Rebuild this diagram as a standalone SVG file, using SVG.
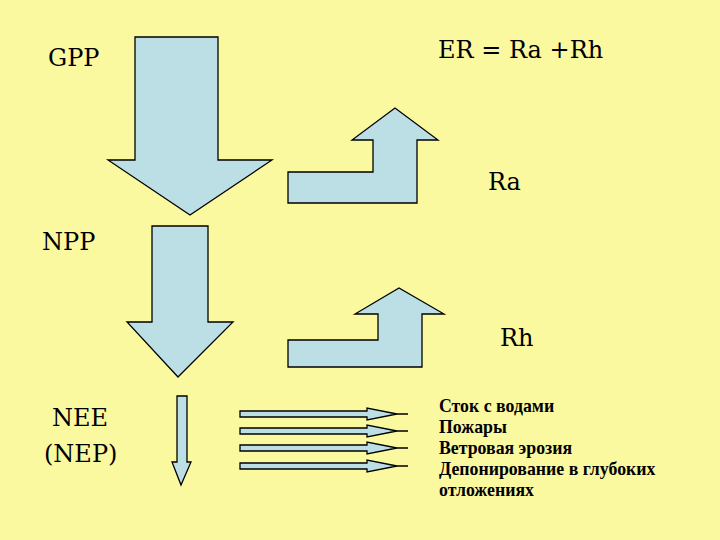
<svg xmlns="http://www.w3.org/2000/svg" width="720" height="540" viewBox="0 0 720 540">
<style>
.a{fill:#bcdfe6;stroke:#000;stroke-width:1.3;stroke-linejoin:miter}
text{fill:#000}
.b{font-family:'DejaVu Serif',serif;font-size:24px}
.s{font-family:'Liberation Serif','Times New Roman',serif;font-size:17.8px;font-weight:bold}
</style>
<rect width="720" height="540" fill="#fbf9a0"/>
<g id="labels">
<text class="b" x="48" y="66">GPP</text>
<text class="b" x="438" y="58">ER = Ra +Rh</text>
<text class="b" x="488" y="190">Ra</text>
<text class="b" x="42" y="250">NPP</text>
<text class="b" x="500" y="346">Rh</text>
<text class="b" x="52" y="426">NEE</text>
<text class="b" x="44" y="462">(NEP)</text>
<text class="s" x="439" y="412">Сток с водами</text>
<text class="s" x="439" y="433">Пожары</text>
<text class="s" x="439" y="454">Ветровая эрозия</text>
<text class="s" x="439" y="475">Депонирование в глубоких</text>
<text class="s" x="439" y="496">отложениях</text>
</g>
<g id="connectors">
<polygon id="gpp" class="a" points="135,37 218,37 218,160 272,160 190,215 108,160 135,160"/>
<polygon id="npp" class="a" points="152,226 208,226 208,322 233,322 178,377 127,322 152,322"/>
<polygon id="nee" class="a" points="177,396 187,396 187,462 191,462 181,485 172,462 177,462"/>
<polygon id="ra" class="a" points="288,172 373,172 373,140 352,140 395,108 438,140 417,140 417,203 288,203"/>
<polygon id="rh" class="a" points="288,340 378,340 378,314 355,314 399,288 444,314 422,314 422,367 288,367"/>
<g>
<polygon class="a" points="240,411 367,411 367,408 397,414 367,420 367,417 240,417"/>
<polygon class="a" points="240,428 367,428 367,425 397,431 367,437 367,434 240,434"/>
<polygon class="a" points="240,445 367,445 367,442 397,448 367,454 367,451 240,451"/>
<polygon class="a" points="240,463 367,463 367,460 397,466 367,472 367,469 240,469"/>
<path d="M397 414H408M397 431H408M397 448H408M397 466H408" stroke="#000" stroke-width="1.5"/>
</g>
</g>
</svg>
